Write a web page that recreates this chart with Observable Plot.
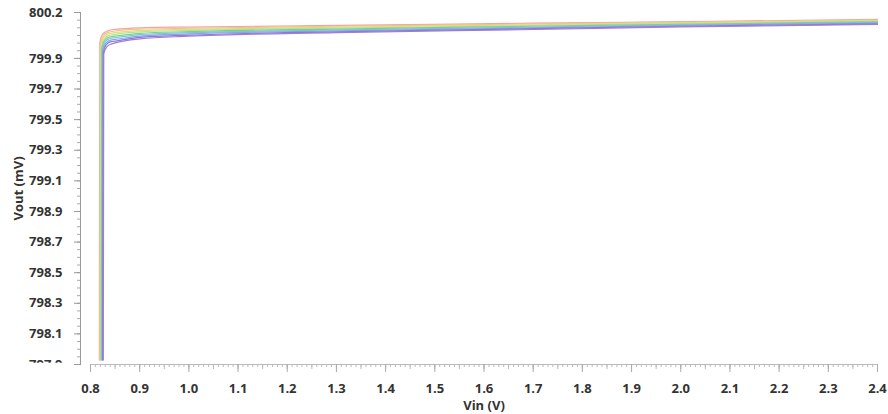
<!DOCTYPE html>
<html>
<head>
<meta charset="utf-8">
<script src="https://cdn.jsdelivr.net/npm/d3@7"></script>
<script src="https://cdn.jsdelivr.net/npm/@observablehq/plot@0.6"></script>
<style>
  html, body { margin: 0; padding: 0; background: #fff; }
</style>
</head>
<body>
<div id="chart"></div>
<script>
// ---- data ----
const runs = ["r1", "r2", "r3", "r4", "r5", "r6", "r7", "r8", "r9"];
const colors = ["#f2a3a3", "#f3bf8e", "#e6dc78", "#b5e48f", "#7fcf8f", "#7cc9cf", "#86a8ea", "#8479de", "#a679d2"];

// steep rise + knee (Vin in V, Vout in mV)
const kneeVin = [
  [0.818, 0.819, 0.825, 0.835],
  [0.819, 0.820, 0.826, 0.836],
  [0.820, 0.821, 0.827, 0.837],
  [0.821, 0.822, 0.828, 0.838],
  [0.822, 0.823, 0.829, 0.839],
  [0.823, 0.824, 0.830, 0.840],
  [0.824, 0.825, 0.831, 0.841],
  [0.825, 0.826, 0.832, 0.842],
  [0.826, 0.827, 0.833, 0.843]
];
const kneeVout = [
  [797.93, 800.000, 800.060, 800.080],
  [797.93, 799.990, 800.050, 800.070],
  [797.93, 799.980, 800.040, 800.060],
  [797.93, 799.970, 800.030, 800.050],
  [797.93, 799.960, 800.020, 800.040],
  [797.93, 799.955, 800.010, 800.030],
  [797.93, 799.950, 800.000, 800.020],
  [797.93, 799.940, 799.990, 800.010],
  [797.93, 799.930, 799.975, 799.995]
];
// flat regulated region
const flatVin = [0.85, 0.9, 1.0, 1.3, 1.7, 2.0, 2.4];
const flatVout = [
  [800.090, 800.100, 800.105, 800.116, 800.130, 800.140, 800.155],
  [800.079, 800.091, 800.097, 800.110, 800.125, 800.136, 800.151],
  [800.068, 800.082, 800.090, 800.104, 800.120, 800.132, 800.147],
  [800.057, 800.073, 800.083, 800.098, 800.115, 800.128, 800.143],
  [800.046, 800.064, 800.075, 800.092, 800.110, 800.123, 800.139],
  [800.035, 800.055, 800.068, 800.086, 800.105, 800.119, 800.135],
  [800.024, 800.046, 800.060, 800.080, 800.099, 800.115, 800.131],
  [800.013, 800.037, 800.052, 800.074, 800.094, 800.110, 800.126],
  [800.002, 800.028, 800.045, 800.068, 800.089, 800.106, 800.122]
];

// axes
const xDomain = [0.7797, 2.4];
const yDomain = [797.9, 800.2];
const xTicks = [0.8, 0.9, 1.0, 1.1, 1.2, 1.3, 1.4, 1.5, 1.6, 1.7, 1.8, 1.9, 2.0, 2.1, 2.2, 2.3, 2.4];
const yTicks = [797.9, 798.1, 798.3, 798.5, 798.7, 798.9, 799.1, 799.3, 799.5, 799.7, 799.9, 800.2];
const xTitle = "Vin (V)";
const yTitle = "Vout (mV)";

const xMinor = d3.range(0, 161).map(i => 0.8 + i * 0.01);
const xMid = d3.range(0, 32).map(i => 0.85 + i * 0.05);
const yMinor = d3.range(0, 47).map(i => 797.9 + i * 0.05);

const rows = [];
runs.forEach((r, i) => {
  kneeVin[i].forEach((v, j) => rows.push({run: r, vin: v, vout: kneeVout[i][j]}));
  flatVin.forEach((v, j) => rows.push({run: r, vin: v, vout: flatVout[i][j]}));
});

const chart = Plot.plot({
  width: 888,
  height: 414,
  marginLeft: 80,
  marginRight: 11,
  marginTop: 12,
  marginBottom: 50,
  x: {domain: xDomain},
  y: {domain: yDomain},
  color: {domain: runs, range: colors},
  style: {fontFamily: "'Open Sans', sans-serif", fontSize: "13px", fontWeight: 700, color: "#333", background: "#fff"},
  marks: [
    Plot.frame({anchor: "left", stroke: "#9a9a9a"}),
    Plot.ruleY([yDomain[0]], {x1: xTicks[0], x2: xTicks[xTicks.length - 1], stroke: "#bbb"}),
    Plot.axisY({ticks: yMinor, tickSize: 3, text: null, stroke: "#aaa", label: null}),
    Plot.axisY({ticks: yTicks, tickSize: 6, text: null, stroke: "#999", label: null}),
    Plot.axisY({ticks: yTicks, tickSize: 0, tickPadding: 18, tickFormat: d => d.toFixed(1), fill: "#333", label: null}),
    Plot.axisX({ticks: xMinor, tickSize: 3, text: null, stroke: "#bbb", label: null}),
    Plot.axisX({ticks: xMid, tickSize: 5, text: null, stroke: "#bbb", label: null}),
    Plot.axisX({ticks: xTicks, tickSize: 8, text: null, stroke: "#aaa", label: null}),
    Plot.axisX({ticks: xTicks, tickSize: 0, tickPadding: 19, tickFormat: d => d.toFixed(1), fill: "#333", label: null}),
    Plot.line(rows, {x: "vin", y: "vout", z: "run", stroke: "run", curve: "monotone-x", strokeWidth: 1.2}),
    Plot.text([xTitle], {x: 1.6, frameAnchor: "bottom", lineAnchor: "middle", dy: 41, fontSize: 13, fontWeight: 700, fill: "#333"}),
    Plot.text([yTitle], {frameAnchor: "left", textAnchor: "middle", lineAnchor: "middle", dx: -62, rotate: -90, fontSize: 13, fontWeight: 700, fill: "#333"})
  ]
});

document.getElementById("chart").appendChild(chart);

// the lowest y label is cut by the x-axis edge in the reference
const svg = d3.select(chart);
const defs = svg.insert("defs", ":first-child");
defs.append("clipPath").attr("id", "cutlab").attr("clipPathUnits", "objectBoundingBox")
  .append("rect").attr("x", -0.1).attr("y", -0.1).attr("width", 1.2).attr("height", 0.55);
svg.selectAll("text").filter(function () { return this.textContent === "797.9"; })
  .attr("clip-path", "url(#cutlab)");
</script>
</body>
</html>
